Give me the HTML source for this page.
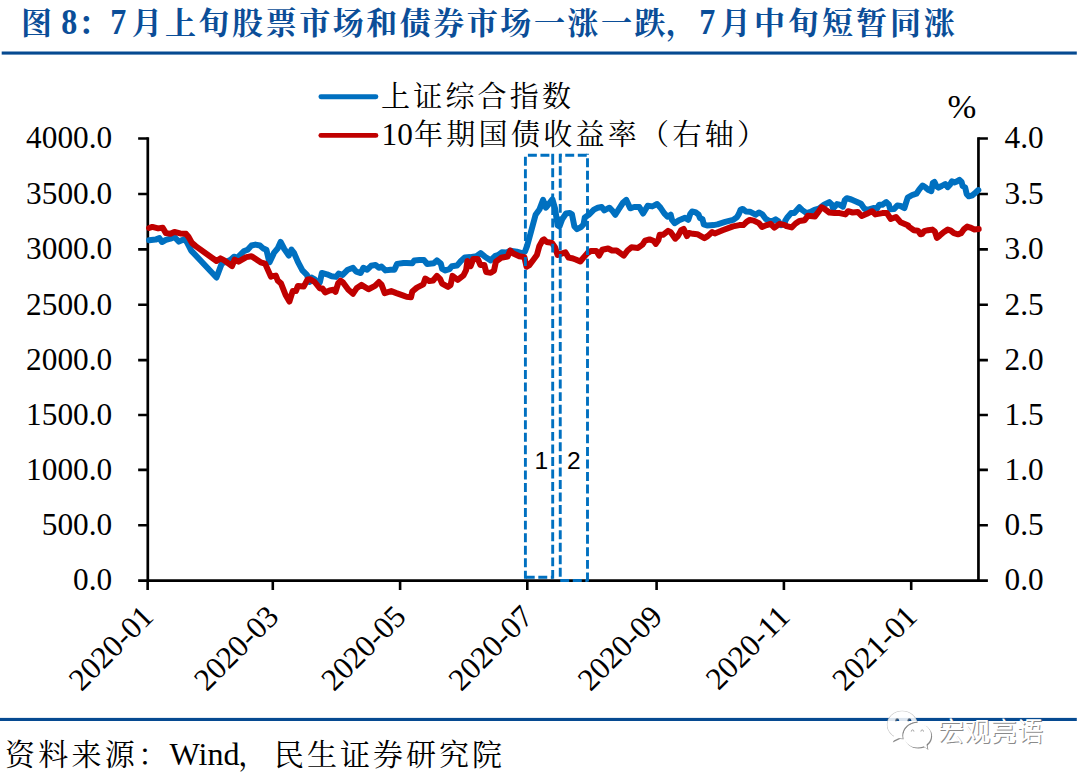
<!DOCTYPE html>
<html lang="zh">
<head>
<meta charset="utf-8">
<title>图 8：7 月上旬股票市场和债券市场一涨一跌，7 月中旬短暂同涨</title>
<style>
html,body{margin:0;padding:0;background:#fff;}
body{width:1080px;height:780px;overflow:hidden;position:relative;font-family:"Liberation Serif","Noto Serif CJK SC",serif;}
svg{position:absolute;left:0;top:0;display:block;}
text{font-family:"Liberation Serif","Noto Serif CJK SC",serif;}
.sans{font-family:"Liberation Sans","Noto Sans CJK SC",sans-serif;}
.ax{fill:#000;font-size:31.3px;}
.hid{fill:#000;fill-opacity:0;stroke:none;}
</style>
</head>
<body>
<svg width="1080" height="780" viewBox="0 0 1080 780">

<g id="title" fill="#0b4e98">
<text x="21" y="34" font-size="31" font-weight="bold">图</text>
<text transform="translate(61.2 34.0) scale(0.890 1)" font-size="36" font-weight="bold">8</text>
<text x="78" y="34" font-size="31" font-weight="bold">：</text>
<text transform="translate(110.2 34.0) scale(0.890 1)" font-size="36" font-weight="bold">7</text>
<text x="131.5" y="34" font-size="31" font-weight="bold" textLength="534">月上旬股票市场和债券市场一涨一跌</text>
<text x="666" y="34" font-size="31" font-weight="bold">，</text>
<text transform="translate(699.2 34.0) scale(0.890 1)" font-size="36" font-weight="bold">7</text>
<text x="720" y="34" font-size="31" font-weight="bold" textLength="235">月中旬短暂同涨</text>
</g>
<rect x="1.7" y="51.5" width="1075.1" height="3.1" fill="#064a91"/>
<rect x="0" y="717.9" width="1076.8" height="3.1" fill="#064a91"/>
<g class="ax" text-anchor="end">
<text x="112.2" y="590.4">0.0</text>
<text x="112.2" y="535.1">500.0</text>
<text x="112.2" y="479.7">1000.0</text>
<text x="112.2" y="424.8">1500.0</text>
<text x="112.2" y="369.9">2000.0</text>
<text x="112.2" y="314.6">2500.0</text>
<text x="112.2" y="259.2">3000.0</text>
<text x="112.2" y="203.8">3500.0</text>
<text x="112.2" y="148.3">4000.0</text>
</g>
<g class="ax" text-anchor="start">
<text x="1004.5" y="590.4">0.0</text>
<text x="1004.5" y="535.1">0.5</text>
<text x="1004.5" y="479.7">1.0</text>
<text x="1004.5" y="424.8">1.5</text>
<text x="1004.5" y="369.9">2.0</text>
<text x="1004.5" y="314.6">2.5</text>
<text x="1004.5" y="259.2">3.0</text>
<text x="1004.5" y="203.8">3.5</text>
<text x="1004.5" y="148.3">4.0</text>
<text x="947.6" y="118.2" font-size="34.6">%</text>
</g>
<g class="ax" text-anchor="end">
<text transform="translate(155.2 618.4) rotate(-45)" x="0" y="0">2020-01</text>
<text transform="translate(280.4 618.4) rotate(-45)" x="0" y="0">2020-03</text>
<text transform="translate(407.7 618.4) rotate(-45)" x="0" y="0">2020-05</text>
<text transform="translate(534.9 618.4) rotate(-45)" x="0" y="0">2020-07</text>
<text transform="translate(664.2 618.4) rotate(-45)" x="0" y="0">2020-09</text>
<text transform="translate(791.5 618.4) rotate(-45)" x="0" y="0">2020-11</text>
<text transform="translate(918.8 618.4) rotate(-45)" x="0" y="0">2021-01</text>
</g>
<g id="axes" stroke="#000" stroke-width="2.7" fill="none" stroke-linecap="butt">
<path d="M147.80 137.20 V581.90 M978.45 137.20 V581.90 M138.15 580.60 H987.90"/>
<path stroke-width="2.6" d="M138.15 525.30 H147.80 M978.45 525.30 H987.90 M138.15 469.90 H147.80 M978.45 469.90 H987.90 M138.15 415.00 H147.80 M978.45 415.00 H987.90 M138.15 360.10 H147.80 M978.45 360.10 H987.90 M138.15 304.80 H147.80 M978.45 304.80 H987.90 M138.15 249.40 H147.80 M978.45 249.40 H987.90 M138.15 194.00 H147.80 M978.45 194.00 H987.90 M138.15 138.50 H147.80 M978.45 138.50 H987.90 M147.65 580.60 V590.00 M272.80 580.60 V590.00 M400.10 580.60 V590.00 M527.30 580.60 V590.00 M656.60 580.60 V590.00 M783.90 580.60 V590.00 M911.20 580.60 V590.00"/>
</g>
<g fill="none" stroke-linejoin="round" stroke-linecap="round" stroke-width="6">
<polyline stroke="#0070c0" points="149.1,240.3 155.6,239.6 159.4,238.1 162.0,242.0 165.9,239.9 170.5,238.6 174.4,237.0 178.9,241.6 184.7,239.0 187.3,242.9 191.2,250.6 216.5,277.5 221.7,263.6 226.2,261.7 230.7,259.7 234.0,256.7 237.2,257.8 243.7,251.3 247.6,249.7 251.5,245.5 255.4,244.6 259.9,245.5 263.1,248.4 266.4,249.7 268.3,257.8 269.6,262.3 273.5,253.9 273.9,252.9 277.8,248.3 280.6,241.9 284.3,249.0 288.8,255.5 291.4,249.6 294.0,252.9 297.9,261.9 302.4,270.4 306.9,274.9 309.5,282.0 311.5,277.5 314.7,279.4 318.6,284.0 319.9,282.0 321.9,273.0 327.0,274.3 331.6,276.2 336.1,276.9 338.7,273.6 342.6,274.9 347.8,269.7 353.0,267.8 356.2,271.7 360.7,273.0 363.3,267.8 367.2,269.7 371.1,265.8 375.6,264.9 378.9,267.8 381.5,266.5 385.4,270.4 390.6,269.7 394.4,269.7 397.0,263.9 403.5,263.0 406.5,263.0 412.3,263.2 414.3,260.4 419.4,260.1 424.0,260.1 427.2,264.0 433.7,263.2 436.9,260.4 440.8,263.6 442.1,268.8 445.4,270.5 449.3,269.2 451.9,266.2 457.0,265.6 460.9,261.0 464.8,257.5 470.0,257.1 476.5,256.2 480.6,253.2 484.9,256.7 490.7,260.4 495.3,255.8 498.5,254.9 501.8,252.3 506.3,252.6 510.2,250.6 516.7,251.6 521.9,253.2 525.1,251.3 527.1,245.9 531.0,231.7 535.6,214.8 539.4,209.6 543.1,199.9 545.9,207.7 548.5,204.4 552.4,199.3 555.0,208.3 557.6,225.2 559.5,226.5 562.1,219.4 566.0,213.5 569.9,212.9 571.9,214.2 574.4,226.5 577.0,229.1 580.9,227.1 583.5,224.5 584.8,217.4 588.7,214.8 593.9,209.6 597.8,207.7 601.7,207.0 604.3,210.3 609.4,207.7 612.0,210.3 615.3,214.8 618.5,209.6 623.1,202.5 626.3,199.9 630.2,208.3 634.1,207.0 639.3,207.0 643.1,213.5 647.7,205.7 652.2,206.4 653.9,205.6 657.1,204.0 660.4,207.6 664.3,213.4 667.5,216.7 670.7,214.7 672.0,219.9 674.6,223.1 678.5,220.6 685.0,217.7 688.2,219.9 690.2,214.1 692.1,211.5 695.4,212.1 698.6,214.7 699.9,218.0 702.5,219.3 703.8,224.4 707.0,225.5 713.5,225.1 717.4,224.4 725.2,221.9 733.0,219.9 736.9,217.3 738.8,214.1 740.7,209.5 742.7,208.9 745.9,211.5 749.8,211.7 755.6,214.7 758.9,212.5 762.1,214.1 765.4,218.6 768.6,220.6 772.5,221.2 775.7,219.3 778.3,221.2 780.9,225.1 784.8,223.8 785.2,220.9 787.1,217.7 791.0,213.1 794.3,213.1 799.4,207.3 802.0,209.9 806.6,213.1 810.5,211.9 814.4,209.9 818.9,208.6 824.1,204.7 829.3,202.1 831.9,204.7 833.1,208.6 837.0,204.1 839.6,204.7 842.9,206.7 844.8,200.2 846.8,198.2 851.3,199.5 856.5,201.7 861.0,203.8 864.3,208.6 867.5,209.9 873.3,208.0 877.2,208.2 879.2,204.7 882.4,204.7 886.3,202.1 888.9,204.7 890.2,209.3 894.1,209.0 897.3,205.4 900.6,206.0 904.4,208.0 907.7,197.6 912.2,195.0 912.8,194.8 916.4,193.7 919.5,189.1 922.6,185.5 925.7,187.6 928.7,190.1 931.3,191.2 932.8,183.0 934.4,181.9 936.4,186.0 938.5,187.6 941.6,186.0 945.2,184.0 947.7,187.1 949.8,185.0 951.8,181.4 954.4,182.4 957.0,181.4 959.5,179.9 961.6,181.9 962.6,186.0 965.2,187.6 966.7,194.2 968.8,196.3 972.4,195.3 975.4,192.7 978.3,190.1"/>
<polyline stroke="#c00000" points="149.1,228.0 152.3,226.9 158.1,228.4 162.7,227.7 165.9,233.1 170.5,233.8 174.4,231.9 180.2,233.4 186.0,233.8 188.6,237.0 191.9,242.9 195.7,246.1 216.5,261.0 220.4,258.4 224.3,260.4 232.0,266.2 234.6,259.7 238.5,261.7 246.3,257.1 251.5,256.2 260.6,262.3 265.1,263.6 270.9,276.6 271.9,276.2 275.8,275.6 277.8,280.7 281.0,283.3 285.6,295.0 289.4,301.5 292.7,291.1 295.9,291.1 297.9,285.9 303.7,286.6 307.6,279.4 310.2,279.2 314.7,282.0 319.9,288.5 322.5,288.5 325.1,292.4 329.6,290.5 333.5,289.8 335.5,291.8 338.1,283.3 340.6,280.7 343.2,282.7 348.4,289.8 353.0,293.7 356.9,287.9 361.4,284.9 368.5,289.2 375.0,285.9 378.9,282.0 381.5,284.6 384.7,293.1 391.2,291.1 396.4,293.1 403.5,295.6 406.5,296.7 411.0,297.3 412.3,291.5 416.9,287.6 423.3,284.4 425.3,278.5 429.2,281.1 433.1,280.5 436.9,275.9 440.2,279.2 442.1,283.7 448.0,286.9 450.6,285.0 452.5,275.9 457.7,279.8 463.5,275.3 466.1,270.1 467.4,261.0 470.6,266.2 473.2,259.1 477.8,259.1 480.4,264.9 484.3,264.9 486.2,272.0 490.7,272.7 494.0,270.7 495.9,261.7 501.1,257.8 507.6,256.5 510.2,250.6 512.8,253.2 519.3,256.2 524.4,257.1 526.5,266.7 529.1,265.4 533.6,259.5 536.9,255.0 539.4,245.9 542.7,240.1 544.0,239.4 546.6,242.0 551.8,242.7 555.0,247.2 557.6,255.0 561.5,253.7 565.4,252.4 568.6,257.6 571.9,258.2 575.7,259.5 580.3,261.5 583.5,257.6 587.4,253.1 590.6,251.1 596.5,251.1 599.1,255.6 602.3,249.8 608.1,248.5 612.0,250.5 616.6,250.5 623.7,255.6 627.6,250.5 631.5,247.2 638.0,247.9 642.5,244.6 645.1,240.7 649.6,239.4 653.9,241.0 655.8,243.9 658.4,240.0 659.7,234.8 663.0,234.8 668.1,230.9 670.7,232.2 675.3,238.7 677.9,236.1 681.1,230.3 683.7,229.0 686.9,236.1 688.9,232.9 692.8,233.8 697.3,234.2 704.4,238.1 707.7,236.1 712.2,232.0 714.8,233.5 722.6,230.3 733.0,226.4 739.4,225.1 743.3,225.1 746.6,221.9 749.8,219.9 753.7,220.6 758.9,223.1 762.1,227.0 766.7,225.1 770.6,223.8 774.4,227.7 779.6,223.8 784.8,225.1 786.5,226.1 791.7,227.4 795.6,223.5 799.4,220.9 804.6,220.3 807.9,215.7 815.0,216.4 818.9,211.2 821.5,207.3 824.1,208.6 829.3,212.5 834.4,212.9 839.6,213.1 845.5,214.4 848.1,211.2 852.6,212.5 857.8,211.9 861.7,216.0 866.9,213.8 872.0,211.2 875.3,214.4 882.4,213.1 886.9,213.1 890.8,219.0 896.0,217.0 900.6,222.2 908.3,225.5 908.7,226.6 913.9,230.2 918.0,230.7 920.5,234.3 922.1,233.8 924.1,231.2 928.2,230.2 932.3,229.6 934.9,231.7 936.9,237.9 939.5,235.8 943.6,232.2 947.7,229.6 950.8,230.7 953.9,233.2 958.0,234.3 961.1,233.2 964.1,229.1 967.2,226.6 970.3,227.6 974.4,229.4 978.7,229.1"/>
</g>
<g fill="none" stroke="#0070c0" stroke-width="2.9" stroke-dasharray="8.95 3.6">
<path d="M525.40 153.75 L525.40 578.75" stroke-dashoffset="9.60"/>
<path d="M552.70 153.75 L552.70 578.75" stroke-dashoffset="10.50"/>
<path d="M525.40 155.20 L552.70 155.20" stroke-dashoffset="10.05"/>
<path d="M525.40 577.30 L552.70 577.30" stroke-dashoffset="12.20"/>
<path d="M552.7 153.75 V156.2" stroke-dasharray="none"/>
<path d="M560.25 153.75 L560.25 577.20" stroke-dashoffset="0.05"/>
<path d="M587.50 153.75 L587.50 581.95" stroke-dashoffset="8.00"/>
<path d="M560.25 155.20 L588.95 155.20" stroke-dashoffset="7.55"/>
<path d="M560.25 580.50 L587.50 580.50" stroke-dashoffset="0.00"/>
</g>
<text class="sans" x="534.6" y="468.7" font-size="24.6" fill="#000">1</text>
<text class="sans" x="567.0" y="468.7" font-size="24.6" fill="#000">2</text>
<g stroke-width="4.9" stroke-linecap="round" fill="none">
<path stroke="#0070c0" d="M320.9 96.8 H375.9"/>
<path stroke="#c00000" d="M320.9 135.4 H375.9"/>
</g>
<text x="381" y="107" font-size="29" fill="#000" textLength="190">上证综合指数</text>
<text class="ax" x="381.5" y="145">10</text>
<text x="414" y="144.5" font-size="29" fill="#000" textLength="352">年期国债收益率（右轴）</text>
<text x="5" y="765" font-size="30" fill="#000" textLength="163">资料来源：</text>
<text x="169.6" y="765.2" font-size="32" fill="#000">Wind</text>
<text x="238" y="765" font-size="30" fill="#000">，</text>
<text x="274" y="765" font-size="30" fill="#000" textLength="228">民生证券研究院</text>
<g id="wm">
<defs><mask id="mb" maskUnits="userSpaceOnUse" x="880" y="700" width="60" height="60"><rect x="880" y="700" width="60" height="60" fill="#fff"/><ellipse cx="917.4" cy="735.4" rx="15.1" ry="13.6" fill="#000"/><circle cx="897.2" cy="720.2" r="1.9" fill="#000"/><circle cx="909.4" cy="720.2" r="1.9" fill="#000"/></mask><clipPath id="cb"><ellipse cx="902.2" cy="724.8" rx="14.8" ry="13.5"/></clipPath></defs>
<g fill="#6a6a6a" fill-opacity=".8" transform="translate(1 1)"><g mask="url(#mb)"><ellipse cx="902.2" cy="724.8" rx="14.8" ry="13.5"/><path d="M894.5 735 L891.8 741.6 L900 737.5Z"/></g><ellipse cx="917.4" cy="735.4" rx="13.7" ry="12.2"/><path d="M922.5 745.5 L927.4 749 L926.2 742.5Z"/><text class="sans" x="938" y="741" font-size="26" textLength="105">宏观亮语</text></g>
<g mask="url(#mb)" fill="none" stroke="#c4c4c4" stroke-width="1.1"><ellipse cx="902.2" cy="724.8" rx="14.8" ry="13.5"/></g>
<g fill="#fff"><g mask="url(#mb)"><ellipse cx="902.2" cy="724.8" rx="14.8" ry="13.5"/><path d="M894.5 735 L891.8 741.6 L900 737.5Z"/></g><ellipse cx="917.4" cy="735.4" rx="13.7" ry="12.2"/><path d="M922.5 745.5 L927.4 749 L926.2 742.5Z"/><text class="sans" x="938" y="741" font-size="26" textLength="105">宏观亮语</text></g>
<g mask="url(#mb)"><rect x="885" y="717.9" width="40" height="3.1" fill="#064a91" fill-opacity=".14" clip-path="url(#cb)"/></g>
<g fill="none" stroke="#9a9a9a" stroke-width="0.9" stroke-linecap="round"><path d="M911.3 731.2a1.3 1.3 0 0 1 2.6 0"/><path d="M920.9 731.2a1.3 1.3 0 0 1 2.6 0"/></g>
</g>
</svg>
</body>
</html>
